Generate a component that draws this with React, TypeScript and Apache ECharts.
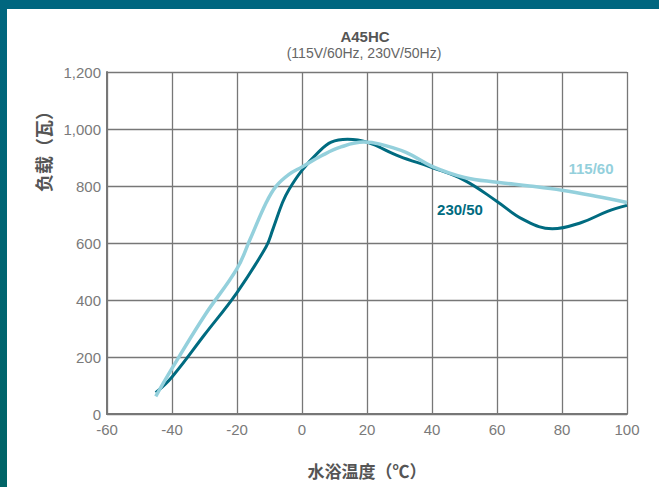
import React, { useEffect, useRef } from "react";
import * as echarts from "echarts";

const temps230 = [-45, -40, -30, -20, -11, -9, -6, -4, 0, 5, 9, 14, 20, 30, 40, 50, 60, 68, 77, 86, 94, 100];
const load230 = [75, 130, 278, 426, 588, 647, 742, 788, 855, 918, 954, 964, 954, 904, 865, 820, 746, 683, 650, 672, 711, 732];
const temps115 = [-45, -40, -30, -20, -16, -11, -8, -4, 0, 6, 12, 19, 24, 32, 40, 50, 60, 70, 80, 90, 100];
const load115 = [62, 160, 345, 510, 612, 742, 799, 841, 867, 906, 937, 954, 947, 918, 869, 830, 813, 800, 785, 765, 742];

const xTicks = { min: -60, max: 100, interval: 20 };
const yTicks = { min: 0, max: 1200, interval: 200 };

const title = "A45HC";
const subtitle = "(115V/60Hz, 230V/50Hz)";
const xName = "水浴温度（℃）";
const yName = "负载（瓦）";
const name115 = "115/60";
const name230 = "230/50";

const DARK = "#006b80";
const LIGHT = "#94d0dc";

export default function App() {
  const ref = useRef<HTMLDivElement>(null);
  useEffect(() => {
    document.body.style.margin = "0";
    const chart = echarts.init(ref.current!, null, { renderer: "svg" });
    const fontLatin = "'Liberation Sans', Arial, Helvetica, sans-serif";
    const fontCJK = "'Noto Sans CJK SC', sans-serif";
    chart.setOption({
      animation: false,
      backgroundColor: "#ffffff",
      title: [
        {
          text: title,
          left: 365,
          top: 29,
          textAlign: "center",
          padding: 0,
          textStyle: { fontFamily: fontLatin, fontSize: 15, fontWeight: "bold", color: "#555" },
        },
        {
          text: subtitle,
          left: 364,
          top: 46,
          textAlign: "center",
          padding: 0,
          textStyle: { fontFamily: fontLatin, fontSize: 14, fontWeight: "normal", color: "#666" },
        },
      ],
      grid: { left: 107, right: 32, top: 72, bottom: 73 },
      xAxis: {
        type: "value",
        min: xTicks.min,
        max: xTicks.max,
        interval: xTicks.interval,
        name: xName,
        nameLocation: "middle",
        nameGap: 48,
        nameTextStyle: { fontFamily: fontCJK, fontSize: 17, fontWeight: "bold", color: "#555" },
        axisLine: { show: true, onZero: false, lineStyle: { color: "#777", width: 2 } },
        axisTick: { show: false },
        axisLabel: { margin: 8, fontFamily: fontLatin, fontSize: 15, color: "#7a7a7a" },
        splitLine: { show: true, lineStyle: { color: "#777", width: 1.3 } },
      },
      yAxis: {
        type: "value",
        min: yTicks.min,
        max: yTicks.max,
        interval: yTicks.interval,
        axisLine: { show: true, onZero: false, lineStyle: { color: "#777", width: 2 } },
        axisTick: { show: false },
        axisLabel: {
          margin: 6,
          fontFamily: fontLatin,
          fontSize: 15,
          color: "#7a7a7a",
          formatter: (v: number) => v.toLocaleString("en-US"),
        },
        splitLine: { show: true, lineStyle: { color: "#777", width: 1.3 } },
      },
      series: [
        {
          name: name115,
          type: "line",
          data: temps115.map((t, i) => [t, load115[i]]),
          smooth: 0.4,
          showSymbol: false,
          lineStyle: { color: LIGHT, width: 3.5 },
          z: 3,
        },
        {
          name: name230,
          type: "line",
          data: temps230.map((t, i) => [t, load230[i]]),
          smooth: 0.4,
          showSymbol: false,
          lineStyle: { color: DARK, width: 3 },
          z: 2,
        },
      ],
      graphic: [
        { type: "rect", shape: { x: 0, y: 0, width: 659, height: 9 }, style: { fill: "#00667f" }, z: 100 },
        {
          type: "rect",
          shape: { x: 0, y: 0, width: 7, height: 487 },
          style: {
            fill: new echarts.graphic.LinearGradient(0, 0, 0, 1, [
              { offset: 0, color: "#00667f" },
              { offset: 1, color: "#006466" },
            ]),
          },
          z: 100,
        },
        {
          type: "text",
          x: 43,
          y: 147,
          rotation: Math.PI / 2,
          style: {
            text: yName,
            fontFamily: fontCJK,
            fontSize: 18,
            fontWeight: "bold",
            fill: "#555",
            align: "center",
            verticalAlign: "middle",
          },
        },
        {
          type: "text",
          x: 591,
          y: 168,
          style: {
            text: name115,
            fontFamily: fontLatin,
            fontSize: 15,
            fontWeight: "bold",
            fill: LIGHT,
            align: "center",
            verticalAlign: "middle",
          },
        },
        {
          type: "text",
          x: 460,
          y: 209,
          style: {
            text: name230,
            fontFamily: fontLatin,
            fontSize: 15,
            fontWeight: "bold",
            fill: DARK,
            align: "center",
            verticalAlign: "middle",
          },
        },
      ],
    });
    return () => chart.dispose();
  }, []);
  return (
    <div
      ref={ref}
      style={{ position: "absolute", left: 0, top: 0, width: 659, height: 487, background: "#fff" }}
    />
  );
}
